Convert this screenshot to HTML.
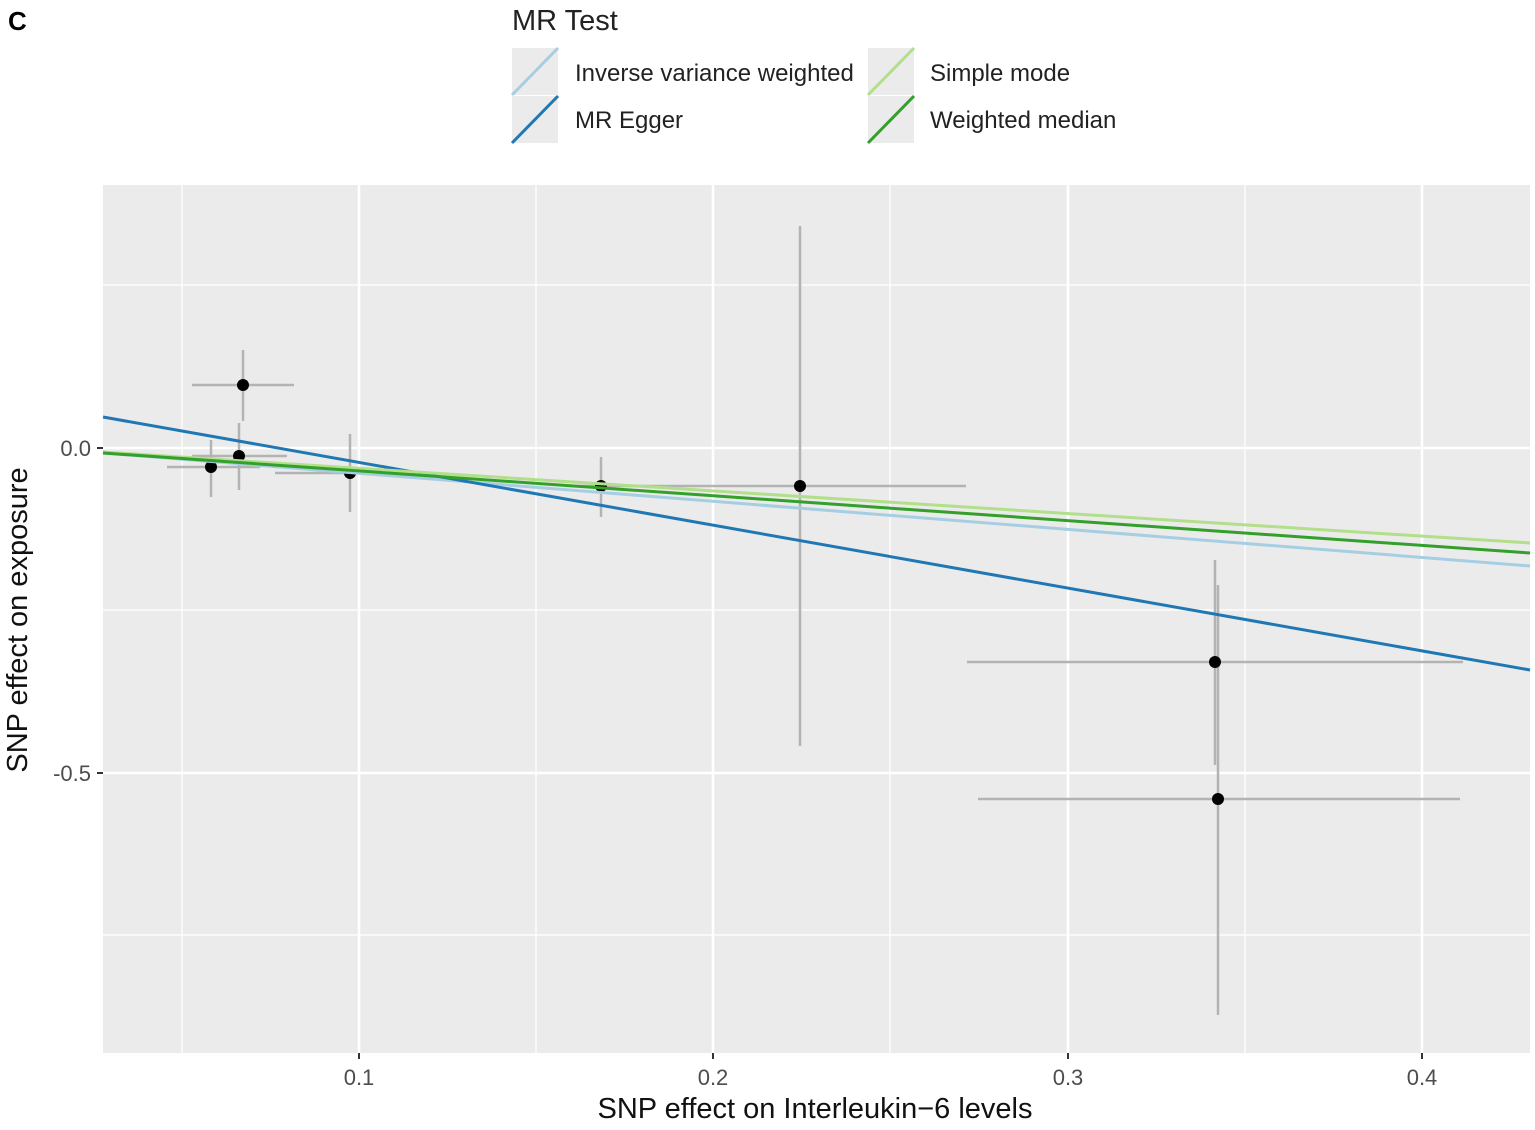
<!DOCTYPE html>
<html><head><style>body{margin:0;background:#fff}</style></head><body>
<svg width="1535" height="1125" xmlns="http://www.w3.org/2000/svg" font-family="Liberation Sans, sans-serif">
<rect width="1535" height="1125" fill="#fff"/>
<text x="8" y="30" font-size="26" font-weight="bold">C</text>
<text x="512" y="30" font-size="29" fill="#222">MR Test</text>
<g>
<rect x="512" y="48" width="46" height="47" fill="#ebebeb"/><line x1="512" y1="95" x2="558" y2="48" stroke="#a6cee3" stroke-width="3"/>
<rect x="512" y="96" width="46" height="47" fill="#ebebeb"/><line x1="512" y1="143" x2="558" y2="96" stroke="#1f78b4" stroke-width="3"/>
<rect x="868" y="48" width="46" height="47" fill="#ebebeb"/><line x1="868" y1="95" x2="914" y2="48" stroke="#b2df8a" stroke-width="3"/>
<rect x="868" y="96" width="46" height="47" fill="#ebebeb"/><line x1="868" y1="143" x2="914" y2="96" stroke="#33a02c" stroke-width="3"/>
<text x="575" y="81" font-size="24" fill="#222">Inverse variance weighted</text>
<text x="575" y="128" font-size="24" fill="#222">MR Egger</text>
<text x="930" y="81" font-size="24" fill="#222">Simple mode</text>
<text x="930" y="128" font-size="24" fill="#222">Weighted median</text>
</g>
<rect x="103" y="185" width="1427" height="868" fill="#ebebeb"/>
<g stroke="#fff" stroke-width="1.3">
<line x1="182" y1="185" x2="182" y2="1053"/><line x1="536" y1="185" x2="536" y2="1053"/><line x1="890" y1="185" x2="890" y2="1053"/><line x1="1245" y1="185" x2="1245" y2="1053"/>
<line x1="103" y1="285" x2="1530" y2="285"/><line x1="103" y1="610" x2="1530" y2="610"/><line x1="103" y1="935" x2="1530" y2="935"/>
</g>
<g stroke="#fff" stroke-width="2.6">
<line x1="359" y1="185" x2="359" y2="1053"/><line x1="713" y1="185" x2="713" y2="1053"/><line x1="1068" y1="185" x2="1068" y2="1053"/><line x1="1422" y1="185" x2="1422" y2="1053"/>
<line x1="103" y1="448" x2="1530" y2="448"/><line x1="103" y1="773" x2="1530" y2="773"/>
</g>
<g stroke="#b3b3b3" stroke-width="2.5">
<line x1="192" y1="385" x2="294" y2="385"/><line x1="243" y1="350" x2="243" y2="421"/>
<line x1="192" y1="456" x2="287" y2="456"/><line x1="239" y1="423" x2="239" y2="490"/>
<line x1="167" y1="467" x2="260" y2="467"/><line x1="211" y1="440" x2="211" y2="497"/>
<line x1="275" y1="473" x2="422" y2="473"/><line x1="350" y1="434" x2="350" y2="512"/>
<line x1="570" y1="486" x2="632" y2="486"/><line x1="601" y1="457" x2="601" y2="517"/>
<line x1="632" y1="486" x2="966" y2="486"/><line x1="800" y1="226" x2="800" y2="746"/>
<line x1="967" y1="662" x2="1463" y2="662"/><line x1="1215" y1="560" x2="1215" y2="765"/>
<line x1="978" y1="799" x2="1460" y2="799"/><line x1="1218" y1="585" x2="1218" y2="1015"/>
</g>
<g fill="#000">
<circle cx="243" cy="385" r="6"/><circle cx="239" cy="456" r="6"/><circle cx="211" cy="467" r="6"/><circle cx="350" cy="473" r="6"/>
<circle cx="601" cy="486" r="6"/><circle cx="800" cy="486" r="6"/><circle cx="1215" cy="662" r="6"/><circle cx="1218" cy="799" r="6"/>
</g>
<g stroke-width="3">
<line x1="103" y1="453" x2="1530" y2="566" stroke="#a6cee3"/>
<line x1="103" y1="417" x2="1530" y2="670" stroke="#1f78b4"/>
<line x1="103" y1="452" x2="1530" y2="543" stroke="#b2df8a"/>
<line x1="103" y1="453" x2="1530" y2="553" stroke="#33a02c"/>
</g>
<g stroke="#333" stroke-width="2">
<line x1="97" y1="448" x2="103" y2="448"/><line x1="97" y1="773" x2="103" y2="773"/>
<line x1="359" y1="1053" x2="359" y2="1059"/><line x1="713" y1="1053" x2="713" y2="1059"/><line x1="1068" y1="1053" x2="1068" y2="1059"/><line x1="1422" y1="1053" x2="1422" y2="1059"/>
</g>
<g font-size="22" fill="#4d4d4d">
<text x="91" y="456" text-anchor="end">0.0</text><text x="91" y="781" text-anchor="end">-0.5</text>
<text x="359" y="1085" text-anchor="middle">0.1</text><text x="713" y="1085" text-anchor="middle">0.2</text><text x="1068" y="1085" text-anchor="middle">0.3</text><text x="1422" y="1085" text-anchor="middle">0.4</text>
</g>
<text x="815" y="1118" font-size="29" text-anchor="middle" fill="#111">SNP effect on Interleukin−6 levels</text>
<text transform="translate(27,620) rotate(-90)" font-size="29" text-anchor="middle" fill="#111">SNP effect on exposure</text>
</svg>
</body></html>
